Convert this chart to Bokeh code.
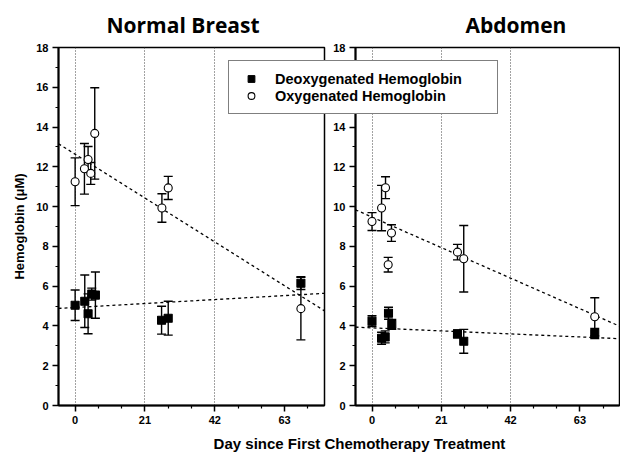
from bokeh.plotting import figure
from bokeh.models import (ColumnDataSource, Range1d, FixedTicker, Whisker, TeeHead,
                          Legend, LegendItem, Title)
from bokeh.layouts import row
from bokeh.embed import file_html
from bokeh.resources import INLINE

# ---------------- data ----------------
x_ticks = [0, 21, 42, 63]
x_minor = [7, 14, 28, 35, 49, 56, 70]
grid_days = [0, 21, 42]
y_ticks = [0, 2, 4, 6, 8, 10, 12, 14, 16, 18]
y_minor = [1, 3, 5, 7, 9, 11, 13, 15, 17]

breast_oxy_day = [0, 2.8, 3.9, 4.7, 5.9, 26.1, 28.0, 67.9]
breast_oxy = [11.25, 11.9, 12.37, 11.67, 13.68, 9.93, 10.94, 4.87]
breast_oxy_err = [1.2, 1.27, 0.65, 0.55, 2.3, 0.72, 0.58, 1.57]

breast_deoxy_day = [0, 2.9, 3.9, 5.0, 6.1, 26.0, 28.0, 67.9]
breast_deoxy = [5.04, 5.24, 4.61, 5.6, 5.55, 4.29, 4.39, 6.15]
breast_deoxy_err = [0.77, 1.32, 1.0, 0.3, 1.16, 0.7, 0.85, 0.32]

abd_oxy_day = [0, 2.9, 4.1, 5.9, 4.9, 25.9, 27.8, 67.5]
abd_oxy = [9.25, 9.93, 10.95, 8.67, 7.08, 7.71, 7.38, 4.46]
abd_oxy_err = [0.45, 1.14, 0.55, 0.42, 0.37, 0.39, 1.67, 0.96]

abd_deoxy_day = [0, 2.9, 4.0, 5.0, 6.0, 25.9, 27.8, 67.5]
abd_deoxy = [4.24, 3.38, 3.45, 4.64, 4.08, 3.6, 3.23, 3.62]
abd_deoxy_err = [0.27, 0.3, 0.3, 0.3, 0.25, 0.2, 0.6, 0.25]

trend_day = [-5, 75]
breast_oxy_trend = [13.16, 4.76]
breast_deoxy_trend = [4.88, 5.64]
abd_oxy_trend = [9.84, 3.99]
abd_deoxy_trend = [3.94, 3.36]

titles = ["Normal Breast", "Abdomen"]
y_label = "Hemoglobin (\u03bcM)"
x_label = "Day since First Chemotherapy Treatment"
legend_labels = ["Deoxygenated Hemoglobin", "Oxygenated Hemoglobin"]

# ---------------- layout ----------------
W, H = 620, 454
TOP, BOTTOM = 46, 48
FONT = "Liberation Sans"
TITLE_FONT = "Open Sans"


def panel(left_border, right_border):
    p = figure(width=W, height=H, x_range=Range1d(-5, 75), y_range=Range1d(0, 18),
               output_backend="svg", toolbar_location=None,
               min_border_left=left_border, min_border_right=right_border,
               min_border_top=TOP, min_border_bottom=BOTTOM)
    p.background_fill_color = "white"
    p.border_fill_alpha = 0
    p.outline_line_color = "black"
    p.outline_line_width = 1.5
    for ax in (p.xaxis[0], p.yaxis[0]):
        ax.axis_line_width = 2
        ax.axis_line_color = "black"
        ax.major_tick_line_color = "black"
        ax.minor_tick_line_color = "black"
        ax.major_tick_line_width = 1.5
        ax.minor_tick_line_width = 1.2
        ax.major_tick_in = 0
        ax.major_tick_out = 6
        ax.minor_tick_in = 0
        ax.minor_tick_out = 3
        ax.major_label_text_font = FONT
        ax.major_label_text_font_style = "bold"
        ax.major_label_text_font_size = "11px"
        ax.major_label_text_color = "black"
        ax.major_label_standoff = 4
    p.xaxis.ticker = FixedTicker(ticks=x_ticks, minor_ticks=x_minor)
    p.yaxis.ticker = FixedTicker(ticks=y_ticks, minor_ticks=y_minor)
    p.ygrid.visible = False
    p.xgrid.ticker = FixedTicker(ticks=grid_days)
    p.xgrid.grid_line_color = "#444444"
    p.xgrid.grid_line_dash = "1 2"
    p.xgrid.grid_line_width = 1
    return p


def draw(p, oxy_day, oxy, oxy_err, de_day, de, de_err, oxy_tr, de_tr):
    p.line(trend_day, oxy_tr, line_color="black", line_dash="3 3", line_width=1.3)
    p.line(trend_day, de_tr, line_color="black", line_dash="3 3", line_width=1.3)
    for days, vals, errs, marker, fill in ((de_day, de, de_err, "square", "black"),
                                           (oxy_day, oxy, oxy_err, "circle", "white")):
        src = ColumnDataSource(dict(x=days, y=vals,
                                    upper=[v + e for v, e in zip(vals, errs)],
                                    lower=[v - e for v, e in zip(vals, errs)]))
        w = Whisker(source=src, base="x", upper="upper", lower="lower",
                    line_color="black", line_width=1.4,
                    upper_head=TeeHead(size=9, line_color="black", line_width=1.4),
                    lower_head=TeeHead(size=9, line_color="black", line_width=1.4))
        p.add_layout(w)
        p.scatter("x", "y", source=src, marker=marker, size=8,
                  fill_color=fill, line_color="black", line_width=1.1)


p1 = panel(58, W - 324)
p1.border_fill_color = "white"
p1.border_fill_alpha = 1
p2 = panel(355, 1)
p2.margin = (0, 0, 0, -W)

draw(p1, breast_oxy_day, breast_oxy, breast_oxy_err,
     breast_deoxy_day, breast_deoxy, breast_deoxy_err, breast_oxy_trend, breast_deoxy_trend)
draw(p2, abd_oxy_day, abd_oxy, abd_oxy_err,
     abd_deoxy_day, abd_deoxy, abd_deoxy_err, abd_oxy_trend, abd_deoxy_trend)

p1.yaxis.axis_label = y_label
p1.yaxis.axis_label_text_font = FONT
p1.yaxis.axis_label_text_font_style = "bold"
p1.yaxis.axis_label_text_font_size = "13px"
p1.yaxis.axis_label_text_color = "black"
p1.yaxis.axis_label_standoff = 6

for p, t, off in ((p1, titles[0], 48), (p2, titles[1], 110)):
    p.add_layout(Title(text=t, align="left", offset=off, standoff=17,
                       text_font=TITLE_FONT, text_font_style="bold",
                       text_font_size="21px", text_color="black"), "above")

# overlay figure (same top/bottom borders) carrying the legend box and the
# shared x-axis title; its unit ranges keep the legend's renderers out of view
LEG_LEFT = 218
p3 = figure(width=W, height=H, x_range=Range1d(0, 1), y_range=Range1d(0, 1),
            output_backend="svg", toolbar_location=None,
            y_axis_location=None,
            min_border_left=LEG_LEFT, min_border_right=W - 500,
            min_border_top=TOP, min_border_bottom=BOTTOM)
p3.margin = (0, 0, 0, -W)
p3.grid.visible = False
p3.border_fill_alpha = 0
p3.background_fill_alpha = 0
p3.outline_line_alpha = 0
xa = p3.xaxis[0]
xa.ticker = FixedTicker(ticks=[], minor_ticks=[])
xa.axis_line_alpha = 0
xa.major_tick_out = 0
xa.major_tick_in = 0
xa.minor_tick_out = 0
xa.minor_tick_in = 0
xa.major_label_standoff = 0
xa.axis_label = x_label
xa.axis_label_standoff = 29
xa.axis_label_text_font = FONT
xa.axis_label_text_font_style = "bold"
xa.axis_label_text_font_size = "15px"
xa.axis_label_text_color = "black"

r_sq = p3.scatter(abd_deoxy_day, abd_deoxy, marker="square", size=8,
                  fill_color="black", line_color="black")
r_ci = p3.scatter(abd_oxy_day, abd_oxy, marker="circle", size=8, fill_color="white",
                  line_color="black", line_width=1.1)

legend = Legend(items=[LegendItem(label=legend_labels[0], renderers=[r_sq]),
                       LegendItem(label=legend_labels[1], renderers=[r_ci])],
                location=(228 - LEG_LEFT, 291), orientation="vertical")
legend.border_line_color = "black"
legend.border_line_width = 1.5
legend.background_fill_color = "white"
legend.background_fill_alpha = 1
legend.label_text_font = FONT
legend.label_text_font_style = "bold"
legend.label_text_font_size = "14.5px"
legend.label_text_color = "black"
legend.label_height = 17
legend.glyph_height = 17
legend.glyph_width = 26
legend.label_standoff = 11
legend.label_width = 213
legend.padding = 9
legend.spacing = 0
legend.margin = 0
p3.add_layout(legend)

layout = row(p1, p2, p3)

open("out.html", "w").write(file_html(layout, INLINE))
